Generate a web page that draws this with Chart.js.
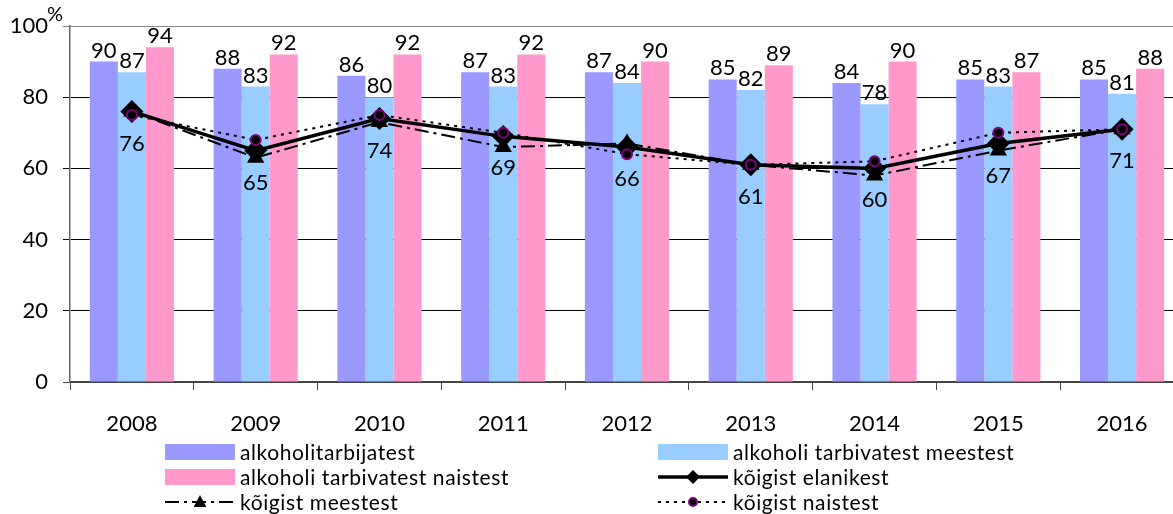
<!DOCTYPE html>
<html>
<head>
<meta charset="utf-8">
<script src="https://cdn.jsdelivr.net/npm/chart.js@4/dist/chart.umd.min.js"></script>
<style>
  html, body { margin: 0; padding: 0; background: #fff; overflow: hidden; }
  #wrap { width: 1186px; height: 514px; position: relative; }
</style>
</head>
<body>
<div id="wrap"><canvas id="chart"></canvas></div>
<script>
// categories and series
const years = ['2008', '2009', '2010', '2011', '2012', '2013', '2014', '2015', '2016'];
const drinkersAll = [90, 88, 86, 87, 87, 85, 84, 85, 85];
const drinkersMen = [87, 83, 80, 83, 84, 82, 78, 83, 81];
const drinkersWomen = [94, 92, 92, 92, 90, 89, 90, 87, 88];
const residentsAll = [76, 65, 74, 69, 66, 61, 60, 67, 71];
const residentsMen = [76, 63, 73, 66, 67, 61, 58, 65, 71];
const residentsWomen = [75, 68, 75, 70, 64, 61, 62, 70, 71];
const yTicks = [0, 20, 40, 60, 80, 100];

const FONT = 'Lato, "Open Sans", sans-serif';

function drawMarker(ctx, style, x, y, r, fill, stroke, lw) {
    ctx.beginPath();
    if (style === 'diamond') {
        ctx.moveTo(x, y - r); ctx.lineTo(x + r, y); ctx.lineTo(x, y + r); ctx.lineTo(x - r, y);
        ctx.closePath();
    } else if (style === 'triangle') {
        ctx.moveTo(x, y - r); ctx.lineTo(x + r * 0.9, y + r * 0.7); ctx.lineTo(x - r * 0.9, y + r * 0.7);
        ctx.closePath();
    } else {
        ctx.arc(x, y, r, 0, Math.PI * 2);
    }
    ctx.fillStyle = fill;
    ctx.fill();
    if (lw) { ctx.lineWidth = lw; ctx.strokeStyle = stroke; ctx.stroke(); }
}

const valueLabels = {
    id: 'valueLabels',
    afterDatasetsDraw(chart) {
        const ctx = chart.ctx;
        ctx.save();
        ctx.font = '22px ' + FONT;
        ctx.fillStyle = '#000';
        ctx.textAlign = 'center';
        ctx.textBaseline = 'alphabetic';
        [0, 1, 2].forEach(i => {
            const ds = chart.data.datasets[i];
            chart.getDatasetMeta(i).data.forEach((bar, j) => {
                ctx.fillText(ds.data[j], bar.x, bar.y - 4);
            });
        });
        ctx.textBaseline = 'middle';
        chart.getDatasetMeta(4).data.forEach((pt, j) => {
            ctx.fillText(residentsAll[j], pt.x, pt.y + 32);
        });
        // percent sign over the top tick
        ctx.font = '20px ' + FONT;
        ctx.fillText('%', 55, 15);
        ctx.restore();
    }
};

const sideLegend = {
    id: 'sideLegend',
    afterDraw(chart) {
        const ctx = chart.ctx;
        const ds = chart.data.datasets;
        const cols = [165, 658];
        const rows = [452, 477, 502];
        const order = [0, 1, 2, 4, 3, 5];
        ctx.save();
        ctx.font = '21px ' + FONT;
        ctx.letterSpacing = '0.6px';
        ctx.textBaseline = 'middle';
        ctx.textAlign = 'left';
        order.forEach((di, k) => {
            const x = cols[k % 2];
            const y = rows[Math.floor(k / 2)];
            const d = ds[di];
            if (d.type === 'line') {
                ctx.beginPath();
                ctx.setLineDash(d.borderDash || []);
                ctx.lineWidth = d.borderWidth;
                ctx.strokeStyle = d.borderColor;
                ctx.moveTo(x, y); ctx.lineTo(x + 70, y);
                ctx.stroke();
                ctx.setLineDash([]);
                const r = d.legendMarker === 'circle' ? 4 : 7;
                drawMarker(ctx, d.legendMarker, x + 35, y, r, '#000', d.pointBorderColor, d.legendMarker === 'circle' ? 2 : 0);
            } else {
                ctx.fillStyle = d.backgroundColor;
                ctx.fillRect(x, y - 8, 70, 16);
            }
            ctx.fillStyle = '#000';
            ctx.fillText(d.label, x + 75, y + 1);
        });
        ctx.restore();
    }
};

new Chart(document.getElementById('chart'), {
    type: 'bar',
    data: {
        labels: years,
        datasets: [
            { label: 'alkoholitarbijatest', data: drinkersAll, backgroundColor: '#9999FF', order: 5 },
            { label: 'alkoholi tarbivatest meestest', data: drinkersMen, backgroundColor: '#99CCFF', order: 5 },
            { label: 'alkoholi tarbivatest naistest', data: drinkersWomen, backgroundColor: '#FF99CC', order: 5 },
            {
                type: 'line', label: 'kõigist meestest', data: residentsMen,
                borderColor: '#000', borderWidth: 2, borderDash: [14, 5, 3, 5],
                pointStyle: 'triangle', pointRadius: 8, pointBackgroundColor: '#000', pointBorderColor: '#000',
                legendMarker: 'triangle', tension: 0, order: 3
            },
            {
                type: 'line', label: 'kõigist elanikest', data: residentsAll,
                borderColor: '#000', borderWidth: 3.5,
                pointStyle: 'rectRot', pointRadius: 9, pointBackgroundColor: '#000', pointBorderColor: '#000',
                legendMarker: 'diamond', tension: 0, order: 2
            },
            {
                type: 'line', label: 'kõigist naistest', data: residentsWomen,
                borderColor: '#000', borderWidth: 2, borderDash: [3, 5],
                pointStyle: 'circle', pointRadius: 5, pointBorderWidth: 2,
                pointBackgroundColor: '#000', pointBorderColor: '#800080',
                legendMarker: 'circle', tension: 0, order: 1
            }
        ]
    },
    options: {
        responsive: true,
        maintainAspectRatio: false,
        animation: false,
        layout: { autoPadding: false, padding: { left: 0, right: 2, top: 26, bottom: 82 } },
        datasets: { bar: { categoryPercentage: 0.68, barPercentage: 1, borderWidth: 0 } },
        plugins: { legend: { display: false }, tooltip: { enabled: false } },
        scales: {
            x: {
                afterFit: s => { s.height = 50; s.paddingLeft = 0; s.paddingRight = 0; },
                grid: { offset: true, drawOnChartArea: false, tickLength: 8, color: '#444' },
                border: { color: '#444', width: 2 },
                ticks: { color: '#000', font: { family: FONT, size: 22 }, padding: 21 }
            },
            y: {
                min: 0, max: 100,
                afterFit: s => { s.width = 70; s.paddingTop = 0; s.paddingBottom = 0; },
                afterBuildTicks: s => { s.ticks = yTicks.map(v => ({ value: v })); },
                grid: {
                    tickLength: 7,
                    color: c => c.tick && c.tick.value === 100 ? '#888' : (c.tick && c.tick.value === 0 ? '#444' : '#000')
                },
                border: { color: '#666', width: 1.5 },
                ticks: { color: '#000', font: { family: FONT, size: 22 }, padding: 15 }
            }
        }
    },
    plugins: [valueLabels, sideLegend]
});
</script>
</body>
</html>
